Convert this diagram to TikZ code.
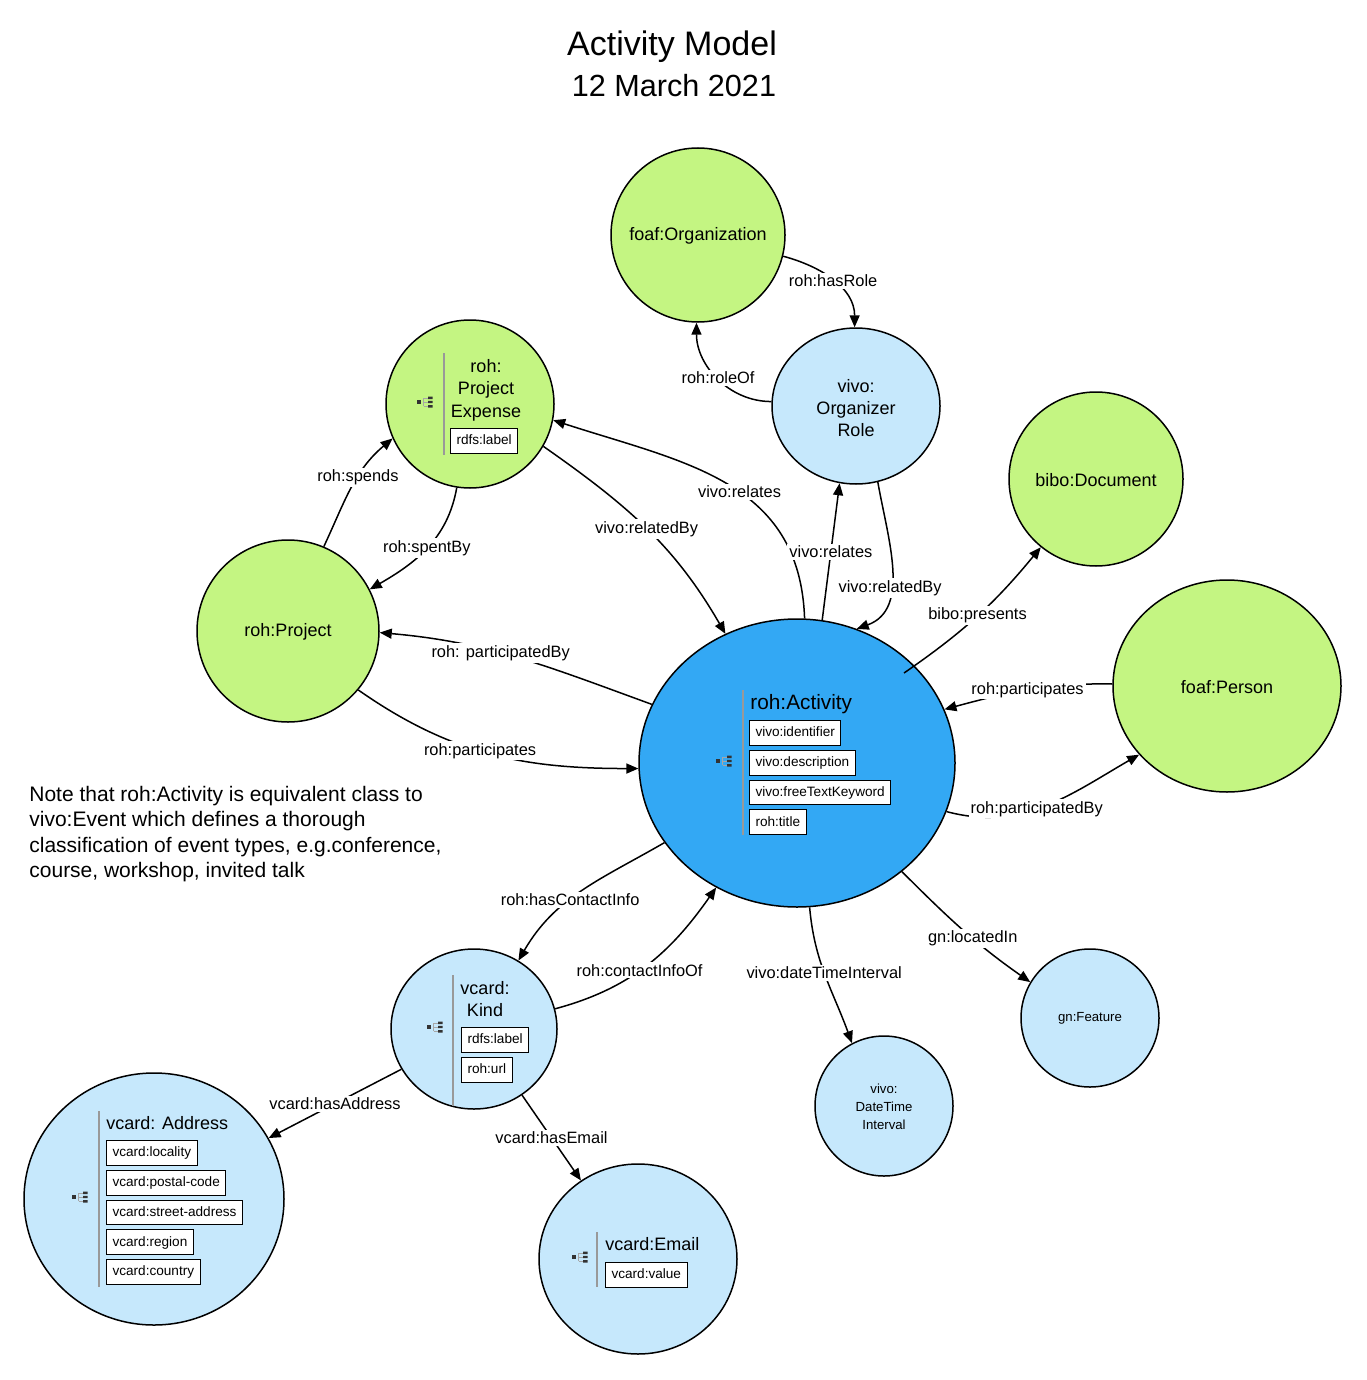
\documentclass[tikz,border=0pt]{standalone}
\usepackage{fontspec}
\setmainfont{Liberation Sans}
\usetikzlibrary{shapes.geometric, positioning, arrows.meta, calc}

\definecolor{extgreen}{RGB}{196,245,130}
\definecolor{locblue}{RGB}{198,232,252}
\definecolor{actblue}{RGB}{51,168,244}

\tikzset{
  cls/.style={ellipse, draw, line width=0.75pt, inner sep=0pt},
  ext/.style={cls, fill=extgreen},
  loc/.style={cls, fill=locblue},
  txt/.style={font=\fontsize{9}{11.2}\selectfont, align=center, inner sep=0pt},
  small/.style={font=\fontsize{6.6}{9}\selectfont, align=center, inner sep=0pt},
  ttl/.style={font=\fontsize{9}{11.2}\selectfont, inner sep=0pt},
  attr/.style={draw, fill=white, line width=0.5pt, font=\fontsize{6.8}{8}\selectfont,
    text height=5.2pt, text depth=1.5pt, inner xsep=3pt, inner ysep=2.85pt},
  sep/.style={draw=black!40, line width=0.75pt},
  rel/.style={-{Triangle[length=6pt,width=5pt]}, line width=0.75pt},
  lbl/.style={fill=white, inner sep=1pt, font=\fontsize{8.2}{10}\selectfont},
  clsicon/.pic={
    \fill[black!80] (-8,-2) rectangle (-4,2);
    \draw[black!35, line width=0.4pt] (-1.5,4) -- (-1.5,-4) (-1.5,4) -- (3,4)
      (-1.5,0) -- (3,0) (-1.5,-4) -- (3,-4);
    \fill[black!80] (3,3) rectangle (7.5,5.5) (3,-1.2) rectangle (7.5,1.2) (3,-5.5) rectangle (7.5,-3);
  }
}

\begin{document}
\begin{tikzpicture}[x=0.5pt, y=0.5pt]
\useasboundingbox (0,0) rectangle (1366,-1380);

% title and note
\node[font=\fontsize{17}{20}\selectfont, inner sep=0pt] (title) at (672,-47) {Activity Model};
\node[font=\fontsize{15.3}{18}\selectfont, inner sep=0pt] (date) at (674,-86) {12 March 2021};
\node[font=\fontsize{10.5}{12.8}\selectfont, align=left, anchor=west, inner sep=0pt] (note) at (29,-834)
  {Note that roh:Activity is equivalent class to\\vivo:Event which defines a thorough\\
   classification of event types, e.g.conference,\\course, workshop, invited talk};

% classes
\node[ext, minimum width=87pt, minimum height=87pt] (org) at (698,-235) {};
\node[loc, minimum width=84pt, minimum height=78pt] (role) at (856,-406) {};
\node[ext, minimum width=84pt, minimum height=84pt] (pexp) at (470,-404) {};
\node[ext, minimum width=87pt, minimum height=87pt] (doc) at (1096,-479) {};
\node[ext, minimum width=91pt, minimum height=91pt] (proj) at (288,-631) {};
\node[ext, minimum width=114pt, minimum height=106pt] (person) at (1227,-686) {};
\node[cls, fill=actblue, minimum width=158pt, minimum height=144pt] (act) at (797,-763) {};
\node[loc, minimum width=83pt, minimum height=80pt] (kind) at (474,-1029) {};
\node[loc, minimum width=130pt, minimum height=126pt] (addr) at (154,-1199) {};
\node[loc, minimum width=99pt, minimum height=95pt] (email) at (638,-1259) {};
\node[loc, minimum width=69pt, minimum height=70pt] (dti) at (884,-1106) {};
\node[loc, minimum width=69pt, minimum height=69pt] (feat) at (1090,-1018) {};

\node[txt] at (698,-236) {foaf:Organization};
\node[txt] at (856,-408) {vivo:\\Organizer\\Role};
\node[txt] at (1096,-480) {bibo:Document};
\node[txt] at (288,-632) {roh:Project};
\node[txt] at (1227,-687) {foaf:Person};
\node[small] at (feat) {gn:Feature};
\node[small] at (884,-1107) {vivo:\\DateTime\\Interval};

% roh:Activity content
\draw[sep] (743,-690) -- (743,-835);
\pic at (724,-761) {clsicon};
\node[font=\fontsize{10.4}{12}\selectfont, inner sep=0pt, anchor=west] (actttl) at (750,-704) {roh:Activity};
\node[attr, anchor=north west] (a1) at (749,-720) {vivo:identifier};
\node[attr, below=2pt of a1.south west, anchor=north west] (a2) {vivo:description};
\node[attr, below=2pt of a2.south west, anchor=north west] (a3) {vivo:freeTextKeyword};
\node[attr, below=2pt of a3.south west, anchor=north west] (a4) {roh:title};

% roh:ProjectExpense content
\draw[sep] (444,-353) -- (444,-455);
\pic at (425,-402) {clsicon};
\node[txt] (pexpttl) at (486,-390) {roh:\\Project\\Expense};
\node[attr, anchor=north west] (p1) at (450,-428) {rdfs:label};

% vcard:Kind content
\draw[sep] (453,-975) -- (453,-1106);
\pic at (435,-1027) {clsicon};
\node[txt] (kindttl) at (485,-999) {vcard:\\Kind};
\node[attr, anchor=north west] (k1) at (461,-1027) {rdfs:label};
\node[attr, below=2pt of k1.south west, anchor=north west] (k2) {roh:url};

% vcard:Address content
\draw[sep] (99,-1111) -- (99,-1287);
\pic at (80,-1197) {clsicon};
\node[ttl, anchor=west] (addrttl) at (106,-1123) {vcard: Address};
\node[attr, anchor=north west] (d1) at (106,-1140) {vcard:locality};
\node[attr, below=2pt of d1.south west, anchor=north west] (d2) {vcard:postal-code};
\node[attr, below=2pt of d2.south west, anchor=north west] (d3) {vcard:street-address};
\node[attr, below=2pt of d3.south west, anchor=north west] (d4) {vcard:region};
\node[attr, below=2pt of d4.south west, anchor=north west] (d5) {vcard:country};

% vcard:Email content
\draw[sep] (597,-1232) -- (597,-1287);
\pic at (580,-1257) {clsicon};
\node[ttl, anchor=west] (emailttl) at (605,-1244) {vcard:Email};
\node[attr, anchor=north west] (e1) at (605,-1262) {vcard:value};

% relations
\draw[rel] (org.-14) to[out=-15, in=90] node[lbl] {roh:hasRole} (role.91);
\draw[rel] (role.177) to[out=180, in=-90] node[lbl] {roh:roleOf} (org.269);
\draw[rel] (proj.67) to[out=65, in=220] node[lbl, pos=0.6] {roh:spends} (pexp.204);
\draw[rel] (pexp.261) to[out=260, in=30] node[lbl] {roh:spentBy} (proj.27);
\draw[rel] (act.87) to[out=92, in=-18, looseness=1.1] node[lbl, pos=0.45] {vivo:relates} (pexp.-11);
\draw[rel] (pexp.-30) to[out=-35, in=120] node[lbl] {vivo:relatedBy} (act.119);
\draw[rel] (act.80) -- node[lbl] {vivo:relates} (role.258);
\draw[rel] (role.-74) to[out=-80, in=20] node[lbl, pos=0.62] {vivo:relatedBy} (act.66);
\coordinate (presfrom) at ($(act.center)+(107,90)$);
\draw[rel] (presfrom) to[bend right=8] node[lbl, pos=0.5] {bibo:presents} (doc.231);
\draw[rel] (person.179) to[out=179, in=15] node[lbl] {roh:participates} (act.20);
\draw[rel] (act.-18) to[out=-15, in=210] node[lbl, pos=0.45] {roh:participatedBy} (person.218);
\draw[rel] (act.158) to[out=160, in=-5] node[lbl, pos=0.57] {roh: participatedBy} (proj.-1);
\draw[rel] (proj.-40) to[out=-35, in=180] node[lbl, pos=0.46] {roh:participates} (act.182);
\draw[rel] (act.211) to[out=210, in=60] node[lbl, pos=0.58] {roh:hasContactInfo} (kind.57);
\draw[rel] (kind.14) to[out=15, in=235] node[lbl, pos=0.45] {roh:contactInfoOf} (act.237);
\draw[rel] (act.275) to[out=-85, in=110] node[lbl, pos=0.47] {vivo:dateTimeInterval} (dti.117);
\draw[rel] (act.-46) to[out=-45, in=145] node[lbl, pos=0.58] {gn:locatedIn} (feat.149);
\draw[rel] (kind.209) -- node[lbl] {vcard:hasAddress} (addr.28);
\draw[rel] (kind.-54) -- node[lbl] {vcard:hasEmail} (email.126);
\end{tikzpicture}
\end{document}
